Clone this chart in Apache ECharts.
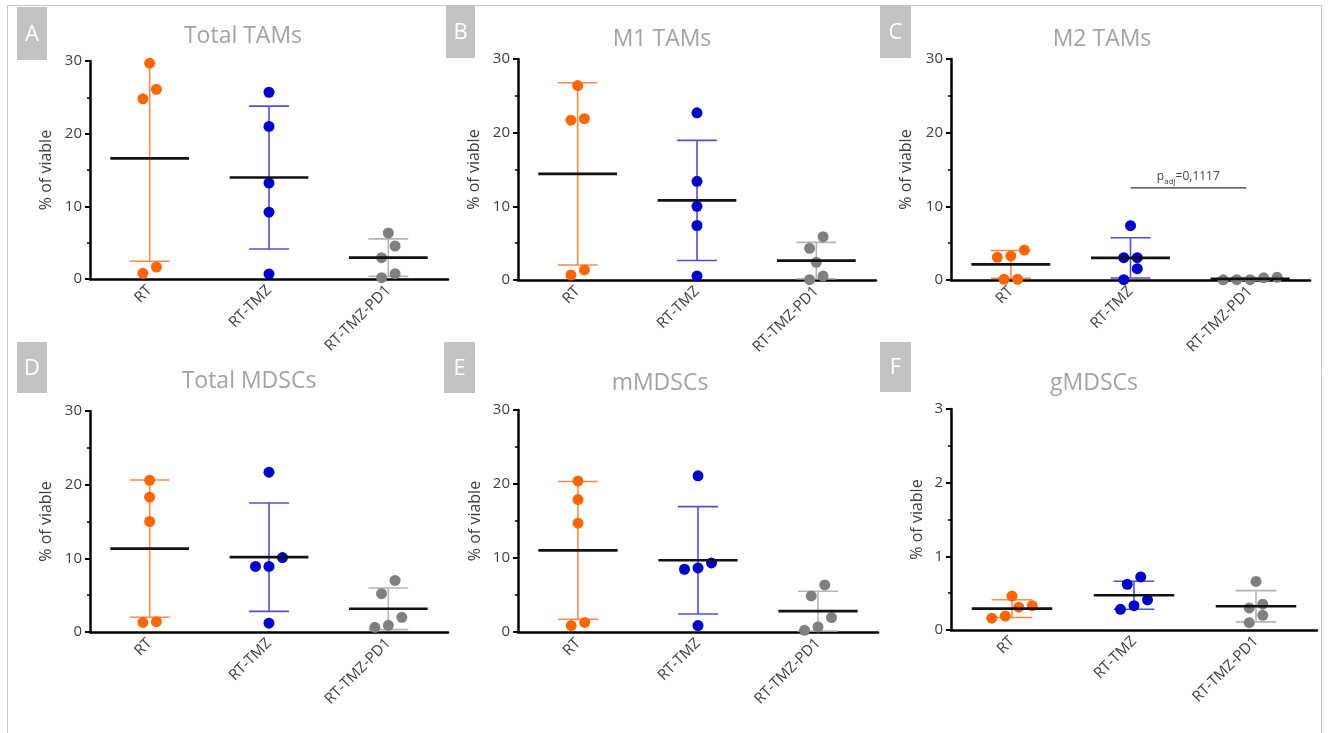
<!DOCTYPE html>
<html>
<head>
<meta charset="utf-8">
<script src="https://cdn.jsdelivr.net/npm/echarts@6/dist/echarts.min.js"></script>
<style>
  html, body { margin: 0; padding: 0; background: #ffffff; }
  #chart { width: 1328px; height: 733px; }
</style>
</head>
<body>
<div id="chart"></div>
<script>
// Treatment groups (x categories)
const categories = ['RT', 'RT-TMZ', 'RT-TMZ-PD1'];

// Per-mouse values (% of viable cells), one inner array per group: RT, RT-TMZ, RT-TMZ-PD1
const totalTAMs  = [[29.7, 26.1, 24.8, 1.65, 0.78], [25.7, 21.0, 13.2, 9.2, 0.7],  [6.33, 4.54, 2.94, 0.73, 0.18]];
const m1TAMs     = [[26.4, 21.9, 21.7, 1.36, 0.68], [22.7, 13.4, 10.0, 7.4, 0.54], [5.88, 4.3, 2.4, 0.54, 0.05]];
const m2TAMs     = [[4.07, 3.26, 3.08, 0.1, 0.1],   [7.37, 3.03, 3.03, 1.54, 0.05], [0.36, 0.05, 0.02, 0.05, 0.3]];
const totalMDSCs = [[20.6, 18.3, 15.0, 1.3, 1.4],   [21.7, 10.1, 8.9, 8.9, 1.2],   [7.0, 5.2, 2.0, 0.63, 0.9]];
const mMDSCs     = [[20.4, 17.9, 14.7, 0.87, 1.3],  [21.1, 9.34, 8.66, 8.48, 0.87], [6.36, 4.87, 1.95, 0.23, 0.68]];
const gMDSCs     = [[0.46, 0.31, 0.33, 0.16, 0.19], [0.72, 0.62, 0.41, 0.33, 0.28], [0.66, 0.35, 0.30, 0.20, 0.10]];

// Panel titles, letters and y-axis ranges
const panelTitles  = ['Total TAMs', 'M1 TAMs', 'M2 TAMs', 'Total MDSCs', 'mMDSCs', 'gMDSCs'];
const panelLetters = ['A', 'B', 'C', 'D', 'E', 'F'];
const yMaxima      = [30, 30, 30, 30, 30, 3];
const yIntervals   = [10, 10, 10, 10, 10, 1];

// Adjusted p-value bracket in the M2 panel (RT-TMZ vs RT-TMZ-PD1)
const m2Bracket = { fromGroup: 1, toGroup: 2, level: 12.5, pText: '0,1117' };

const panelData = [totalTAMs, m1TAMs, m2TAMs, totalMDSCs, mMDSCs, gMDSCs];

// Layout of the six plot areas (px)
const grids = [
  { left: 90,  top: 61,  width: 358, height: 218, nameGap: 36, titleX: 243,  titleY: 36,  box: [17, 7, 30, 53] },
  { left: 518, top: 59,  width: 358, height: 221, nameGap: 36, titleX: 662,  titleY: 39,  box: [446, 6, 29, 52] },
  { left: 951, top: 59,  width: 359, height: 221, nameGap: 37, titleX: 1102, titleY: 39,  box: [880, 6, 31, 52] },
  { left: 90,  top: 411, width: 358, height: 221, nameGap: 36, titleX: 249,  titleY: 381, box: [17, 342, 30, 51] },
  { left: 518, top: 410, width: 360, height: 222, nameGap: 35, titleX: 660,  titleY: 383, box: [444, 342, 31, 51] },
  { left: 951, top: 409, width: 366, height: 221, nameGap: 26, titleX: 1094, titleY: 383, box: [880, 342, 31, 50] }
];

const pointColors = ['#ff6600', '#0000c8', '#808080'];
const barColors   = ['#ff8a4d', '#4f4fd6', '#b5b5b5'];
const DOT = 11;     // marker diameter
const STEP = 13.5;  // horizontal spacing between side-by-side dots

function mean(a) { return a.reduce((s, v) => s + v, 0) / a.length; }
function sd(a) {
  const m = mean(a);
  return Math.sqrt(a.reduce((s, v) => s + (v - m) * (v - m), 0) / (a.length - 1));
}

// Spread dots whose values would overlap into centred rows (scatter dot plot style)
function swarmOffsets(values, pxPerUnit) {
  const idx = values.map((v, i) => i).sort((a, b) => values[a] - values[b]);
  const off = new Array(values.length).fill(0);
  let row = [];
  const flush = () => {
    row.forEach((k, j) => { off[k] = (j - (row.length - 1) / 2) * STEP; });
    row = [];
  };
  idx.forEach(k => {
    if (row.length && (values[k] - values[row[0]]) * pxPerUnit >= STEP) flush();
    row.push(k);
  });
  flush();
  return off;
}

const baseFont = 'Open Sans';
const option = {
  animation: false,
  textStyle: { fontFamily: baseFont },
  grid: [], xAxis: [], yAxis: [], series: [], graphic: []
};

// Outer frame
option.graphic.push({
  type: 'rect', shape: { x: 7.5, y: 5.5, width: 1314, height: 760 },
  style: { fill: 'none', stroke: '#c4c4c4', lineWidth: 1 }, silent: true
});

panelData.forEach((groups, p) => {
  const g = grids[p];
  const yMax = yMaxima[p];
  const pxPerUnit = g.height / yMax;

  option.grid.push({ left: g.left, top: g.top, width: g.width, height: g.height, containLabel: false });

  option.xAxis.push({
    type: 'category', gridIndex: p, data: categories, boundaryGap: true,
    axisLine: { show: true, lineStyle: { color: '#000', width: 2.5 } },
    axisTick: { show: false },
    axisLabel: { rotate: 45, margin: 9, fontSize: 15, color: '#404040', fontFamily: baseFont },
    splitLine: { show: false }
  });

  option.yAxis.push({
    type: 'value', gridIndex: p, min: 0, max: yMax, interval: yIntervals[p],
    name: '% of viable', nameLocation: 'middle', nameGap: g.nameGap, nameRotate: 90,
    nameTextStyle: { fontSize: 16, color: '#404040', fontFamily: baseFont },
    axisLine: { show: true, lineStyle: { color: '#000', width: 2.5 } },
    axisTick: { show: true, length: 5, lineStyle: { color: '#000', width: 2 } },
    minorTick: { show: true, splitNumber: 2, length: 3, lineStyle: { color: '#000', width: 1.5 } },
    axisLabel: { margin: 8, fontSize: 15, color: '#404040', fontFamily: baseFont },
    splitLine: { show: false }
  });

  const stats = groups.map((vals, i) => [i, mean(vals), sd(vals)]);

  // SD error bars
  option.series.push({
    type: 'custom', xAxisIndex: p, yAxisIndex: p, z: 2, silent: true,
    data: stats,
    renderItem: (params, api) => {
      const i = api.value(0), m = api.value(1), s = api.value(2);
      const band = api.size([1, 0])[0];
      const hi = Math.min(m + s, yMax), lo = Math.max(m - s, 0);
      const top = api.coord([i, hi]), bot = api.coord([i, lo]);
      const cap = band * 0.167;
      const st = { stroke: barColors[i], lineWidth: 1.6 };
      const children = [{ type: 'line', shape: { x1: top[0], y1: top[1], x2: bot[0], y2: bot[1] }, style: st }];
      if (m + s <= yMax) children.push({ type: 'line', shape: { x1: top[0] - cap, y1: top[1], x2: top[0] + cap, y2: top[1] }, style: st });
      children.push({ type: 'line', shape: { x1: bot[0] - cap, y1: bot[1], x2: bot[0] + cap, y2: bot[1] }, style: st });
      return { type: 'group', children };
    }
  });

  // Individual values
  const pts = [];
  groups.forEach((vals, i) => {
    const off = swarmOffsets(vals, pxPerUnit);
    vals.forEach((v, k) => pts.push([i, v, off[k]]));
  });
  option.series.push({
    type: 'custom', xAxisIndex: p, yAxisIndex: p, z: 3, silent: true,
    data: pts,
    renderItem: (params, api) => {
      const i = api.value(0);
      const c = api.coord([i, api.value(1)]);
      return { type: 'circle', shape: { cx: c[0] + api.value(2), cy: c[1], r: DOT / 2 }, style: { fill: pointColors[i] } };
    }
  });

  // Group means
  option.series.push({
    type: 'custom', xAxisIndex: p, yAxisIndex: p, z: 4, silent: true,
    data: stats,
    renderItem: (params, api) => {
      const c = api.coord([api.value(0), api.value(1)]);
      const half = api.size([1, 0])[0] * 0.33;
      return { type: 'line', shape: { x1: c[0] - half, y1: c[1], x2: c[0] + half, y2: c[1] }, style: { stroke: '#111', lineWidth: 2.6 } };
    }
  });

  // Title and panel letter
  option.graphic.push({
    type: 'text', x: g.titleX, y: g.titleY, silent: true,
    style: { text: panelTitles[p], textAlign: 'center', textVerticalAlign: 'middle', fontSize: 23, fontFamily: baseFont, fill: '#a3a3a3' }
  });
  const b = g.box;
  option.graphic.push({
    type: 'rect', shape: { x: b[0], y: b[1], width: b[2], height: b[3] }, style: { fill: '#c3c3c3' }, silent: true
  });
  option.graphic.push({
    type: 'text', x: b[0] + b[2] / 2, y: b[1] + b[3] / 2 + 1, silent: true,
    style: { text: panelLetters[p], textAlign: 'center', textVerticalAlign: 'middle', fontSize: 22, fontFamily: baseFont, fill: '#ffffff' }
  });
});

// Significance bracket in the M2 TAMs panel
option.series.push({
  type: 'custom', xAxisIndex: 2, yAxisIndex: 2, z: 5, silent: true,
  data: [[m2Bracket.fromGroup, m2Bracket.toGroup, m2Bracket.level]],
  renderItem: (params, api) => {
    const a = api.coord([api.value(0), api.value(2)]);
    const e = api.coord([api.value(1), api.value(2)]);
    const x2 = e[0] - 4;
    return {
      type: 'group',
      children: [
        { type: 'line', shape: { x1: a[0], y1: a[1], x2: x2, y2: a[1] }, style: { stroke: '#333', lineWidth: 1.2 } },
        {
          type: 'text', x: (a[0] + x2) / 2, y: a[1] - 5,
          style: {
            text: '{p|p}{sub|adj}{p|=' + m2Bracket.pText + '}',
            textAlign: 'center', textVerticalAlign: 'bottom',
            rich: {
              p: { fontSize: 12, fontFamily: baseFont, fill: '#444', lineHeight: 16, verticalAlign: 'bottom' },
              sub: { fontSize: 8, fontFamily: baseFont, fill: '#444', lineHeight: 16, verticalAlign: 'bottom', padding: [0, 0, -3, 0] }
            }
          }
        }
      ]
    };
  }
});

const chart = echarts.init(document.getElementById('chart'), null, { renderer: 'canvas' });
chart.setOption(option);
</script>
</body>
</html>
